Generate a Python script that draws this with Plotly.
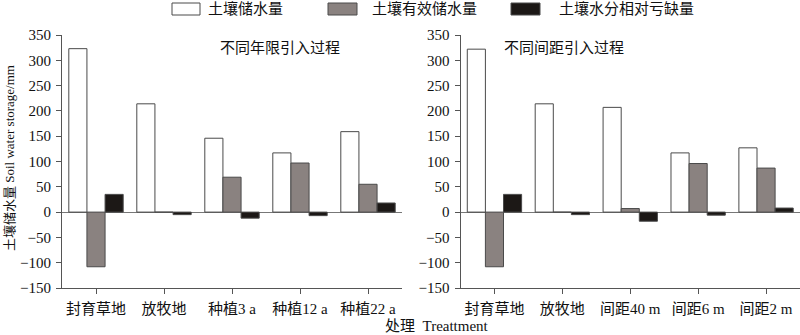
import plotly.graph_objects as go

# ---------------- data ----------------
series_names = ["土壤储水量", "土壤有效储水量", "土壤水分相对亏缺量"]

cats_left = ["封育草地", "放牧地", "种植3 a", "种植12 a", "种植22 a"]
storage_left = [323, 214, 146, 117, 159]
effective_left = [-108, 0, 69, 97, 55]
deficit_left = [35, -5, -12, -7, 18]

cats_right = ["封育草地", "放牧地", "间距40 m", "间距6 m", "间距2 m"]
storage_right = [322, 214, 207, 117, 127]
effective_right = [-108, 0, 7, 96, 87]
deficit_right = [35, -5, -18, -6, 8]

panel_titles = ["不同年限引入过程", "不同间距引入过程"]
y_ticks = [-150, -100, -50, 0, 50, 100, 150, 200, 250, 300, 350]
y_title = "土壤储水量 Soil water storage/mm"
x_title = "处理  Treattment"

# ---------------- style ----------------
W, H = 800, 335
FONT = "Liberation Serif, Times New Roman, Noto Sans CJK SC, serif"
fills = ["#ffffff", "#8a8280", "#1c1816"]
edge = "#4a4a4a"
axis_col = "#555555"

def px_x(x):
    return x / W

def px_y(y):
    return 1 - y / H

fig = go.Figure()

panels = [
    (cats_left, [storage_left, effective_left, deficit_left], "x", "y"),
    (cats_right, [storage_right, effective_right, deficit_right], "x2", "y2"),
]
for cats, vals, xa, ya in panels:
    for name, v, c in zip(series_names, vals, fills):
        fig.add_trace(go.Bar(
            x=cats, y=v, name=name, xaxis=xa, yaxis=ya,
            marker=dict(color=c, line=dict(color=edge, width=1)),
            showlegend=False,
        ))

ydom = [px_y(288), px_y(35)]
axis_common = dict(
    showline=True, linecolor=axis_col, linewidth=1,
    ticks="outside", tickcolor=axis_col, ticklen=5,
    tickfont=dict(family=FONT, size=15, color="#111"),
    showgrid=False, zeroline=False, automargin=False,
)
xaxis_common = dict(axis_common, ticklabelstandoff=2)
yaxis_common = dict(
    axis_common, range=[-150, 350], tickvals=y_ticks,
    ticktext=[("−" + str(-t)) if t < 0 else str(t) for t in y_ticks],
    zeroline=True, zerolinecolor="#777777", zerolinewidth=1,
    domain=ydom, ticklabelstandoff=2,
)

fig.update_layout(
    width=W, height=H,
    margin=dict(l=0, r=0, t=0, b=0, autoexpand=False),
    paper_bgcolor="white", plot_bgcolor="white",
    barmode="group", bargap=0.2, bargroupgap=0,
    font=dict(family=FONT, size=15, color="#111"),
    xaxis=dict(xaxis_common, domain=[px_x(62), px_x(402)], anchor="y"),
    yaxis=dict(yaxis_common, anchor="x"),
    xaxis2=dict(xaxis_common, domain=[px_x(460.5), px_x(800)], anchor="y2"),
    yaxis2=dict(yaxis_common, anchor="x2"),
)

def ann(x, y, text, size=15, **kw):
    d = dict(x=px_x(x), y=px_y(y), xref="paper", yref="paper",
             text=text, showarrow=False, yanchor="middle",
             font=dict(family=FONT, size=size, color="#111"))
    d.update(kw)
    return d

annotations = [
    ann(218, 48, panel_titles[0]),
    ann(626, 48, panel_titles[1]),
    ann(437, 326, x_title),
    ann(9, 158, y_title, size=13, textangle=-90, xanchor="center"),
]

# legend (manual)
shapes = []
legend_boxes = [(172, 200, 206), (328, 357, 370), (511, 540, 557)]
for (x0, x1, xt), c, name in zip(legend_boxes, fills, series_names):
    shapes.append(dict(type="rect", xref="paper", yref="paper",
                       x0=px_x(x0), x1=px_x(x1), y0=px_y(15), y1=px_y(3),
                       fillcolor=c, line=dict(color=edge, width=1)))
    annotations.append(ann(xt, 9, name, xanchor="left"))

fig.update_layout(annotations=annotations, shapes=shapes)
fig.write_html("out.html")
